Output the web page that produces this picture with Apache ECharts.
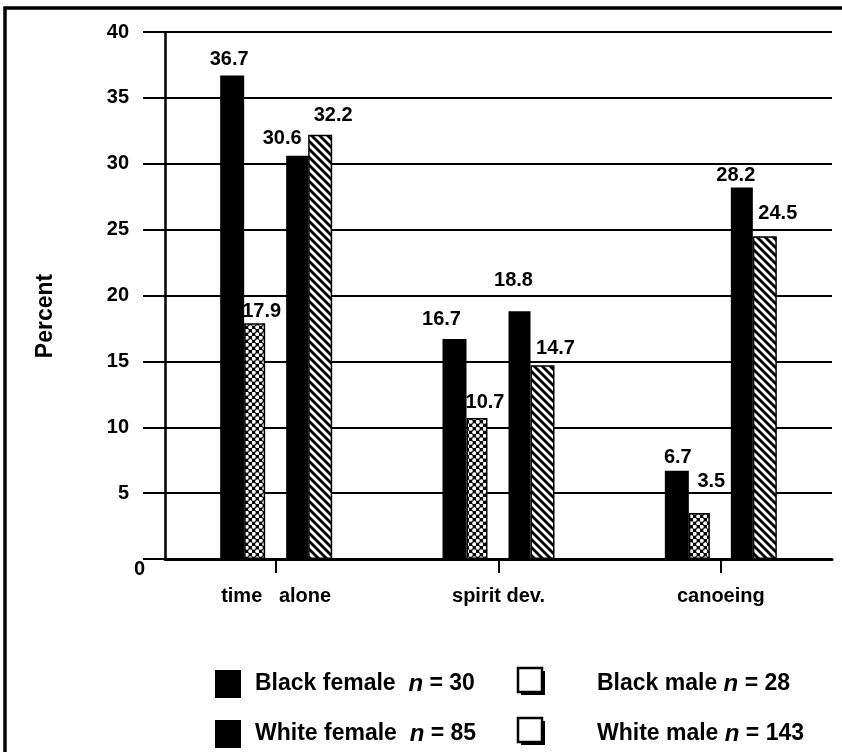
<!DOCTYPE html>
<html>
<head>
<meta charset="utf-8">
<style>
  html, body { margin: 0; padding: 0; background: #fff; }
  #chart { width: 842px; height: 752px; }
</style>
<script src="https://cdn.jsdelivr.net/npm/echarts@6/dist/echarts.min.js"></script>
</head>
<body>
<div id="chart"></div>
<script>
// Activity categories and percentages by group
const categories = ['time   alone', 'spirit dev.', 'canoeing'];
const blackFemale = [36.7, 16.7, 6.7];
const blackMale = [17.9, 10.7, 3.5];
const whiteFemale = [30.6, 18.8, 28.2];
const whiteMale = [32.2, 14.7, 24.5];

// Legend groups and sample sizes
const groupNames = ['Black female', 'White female', 'Black male', 'White male'];
const groupSizes = [30, 85, 28, 143];

// Value axis ticks
const yMin = 0, yMax = 40, yStep = 5;

// Label nudges (dx, dy) so value labels sit clear of neighbouring bars
const nudgeBF = [[-3, -1], [-13, -4], [1, 2]];
const nudgeBM = [[7, 3], [8, -1], [12, -16]];
const nudgeWF = [[-15, -2], [-6, -16], [-6, 3]];
const nudgeWM = [[13, -4], [13, -2], [13, -8]];

const FONT = "'Liberation Sans', Arial, Helvetica, sans-serif";

// Fill patterns: white dots on black, and black diagonal hatching on white
function dotPattern() {
  const c = document.createElement('canvas');
  c.width = 7; c.height = 7;
  const g = c.getContext('2d');
  g.fillStyle = '#000'; g.fillRect(0, 0, 7, 7);
  g.fillStyle = '#fff';
  [[1.75, 1.75], [5.25, 5.25]].forEach(([x, y]) => {
    g.beginPath(); g.arc(x, y, 2.0, 0, Math.PI * 2); g.fill();
  });
  return c;
}
function hatchPattern() {
  const c = document.createElement('canvas');
  c.width = 8; c.height = 8;
  const g = c.getContext('2d');
  g.fillStyle = '#fff'; g.fillRect(0, 0, 8, 8);
  g.strokeStyle = '#000'; g.lineWidth = 2.8;
  [[-1, -1, 9, 9], [-1, 7, 1, 9], [7, -1, 9, 1]].forEach(([a, b, c2, d]) => {
    g.beginPath(); g.moveTo(a, b); g.lineTo(c2, d); g.stroke();
  });
  return c;
}

function items(values, nudges) {
  return values.map((v, i) => ({ value: v, label: { offset: nudges[i] } }));
}

const valueLabel = {
  show: true,
  position: 'top',
  distance: 5,
  color: '#000',
  fontFamily: FONT,
  fontWeight: 'bold',
  fontSize: 20
};

function barSeries(name, values, nudges, width, style) {
  return {
    name: name,
    type: 'bar',
    barWidth: width,
    barGap: '0%',
    barCategoryGap: '20%',
    data: items(values, nudges),
    itemStyle: style,
    label: valueLabel,
    emphasis: { disabled: true },
    z: 3
  };
}

const chart = echarts.init(document.getElementById('chart'), null, { renderer: 'canvas' });

const legendFont = { fontFamily: FONT, fontWeight: 'bold', fontSize: 23, fill: '#000' };
const richN = { n: { fontFamily: FONT, fontWeight: 'bold', fontStyle: 'italic', fontSize: 24, fill: '#000' } };

function legendRow(i, y) {
  const female = groupNames[i], male = groupNames[i + 2];
  return [
    { type: 'rect', shape: { x: 215, y: y - 14, width: 26, height: 28 }, style: { fill: '#000' } },
    { type: 'text', x: 255, y: y, style: Object.assign({ text: female + '  {n|n} = ' + groupSizes[i], verticalAlign: 'middle', rich: richN }, legendFont) },
    { type: 'rect', shape: { x: 521, y: y - 13, width: 24, height: 24 }, style: { fill: '#000' } },
    { type: 'rect', shape: { x: 518, y: y - 16, width: 24, height: 24 }, style: { fill: '#fff', stroke: '#000', lineWidth: 2.5 } },
    { type: 'text', x: 597, y: y, style: Object.assign({ text: male + ' {n|n} = ' + groupSizes[i + 2], verticalAlign: 'middle', rich: richN }, legendFont) }
  ];
}

chart.setOption({
  animation: false,
  backgroundColor: '#fff',
  grid: { left: 165, right: 10, top: 32, bottom: 193, containLabel: false },
  xAxis: {
    type: 'category',
    data: categories,
    axisLine: { show: true, lineStyle: { color: '#000', width: 3 } },
    axisTick: { show: true, alignWithLabel: true, length: 14, lineStyle: { color: '#000', width: 2 } },
    axisLabel: { margin: 27, color: '#000', fontFamily: FONT, fontWeight: 'bold', fontSize: 20 }
  },
  yAxis: {
    type: 'value',
    min: yMin, max: yMax, interval: yStep,
    name: 'Percent',
    nameLocation: 'middle',
    nameGap: 108,
    nameRotate: 90,
    nameTextStyle: { color: '#000', fontFamily: FONT, fontWeight: 'bold', fontSize: 23, padding: [0, 41, 0, 0] },
    axisLine: { show: true, lineStyle: { color: '#000', width: 2.5 } },
    axisTick: { show: true, length: 22, lineStyle: { color: '#000', width: 2 } },
    splitLine: { show: true, lineStyle: { color: '#000', width: 2.2 } },
    axisLabel: {
      margin: 20,
      formatter: v => v === 0 ? '{z|0}' : '{t|' + v + '}',
      rich: {
        t: { color: '#000', fontFamily: FONT, fontWeight: 'bold', fontSize: 20, padding: [0, 16, 0, 0] },
        z: { color: '#000', fontFamily: FONT, fontWeight: 'bold', fontSize: 20, padding: [20, 0, 0, 0] }
      }
    }
  },
  series: [
    barSeries('Black female', blackFemale, nudgeBF, 24, { color: '#000' }),
    barSeries('Black male', blackMale, nudgeBM, 21, { color: { image: dotPattern(), repeat: 'repeat' }, borderColor: '#000', borderWidth: 1.5 }),
    // empty spacer that separates the two race pairs within each category
    { name: 'gap', type: 'bar', barWidth: 21, barGap: '0%', data: [], silent: true },
    barSeries('White female', whiteFemale, nudgeWF, 22, { color: '#000' }),
    barSeries('White male', whiteMale, nudgeWM, 24, { color: { image: hatchPattern(), repeat: 'repeat' }, borderColor: '#000', borderWidth: 1.5 })
  ],
  graphic: [
    { type: 'rect', shape: { x: 5, y: 8, width: 1000, height: 1000 }, style: { fill: 'none', stroke: '#000', lineWidth: 3.5 }, z: 10 }
  ].concat(legendRow(0, 684), legendRow(1, 734))
});
</script>
</body>
</html>
